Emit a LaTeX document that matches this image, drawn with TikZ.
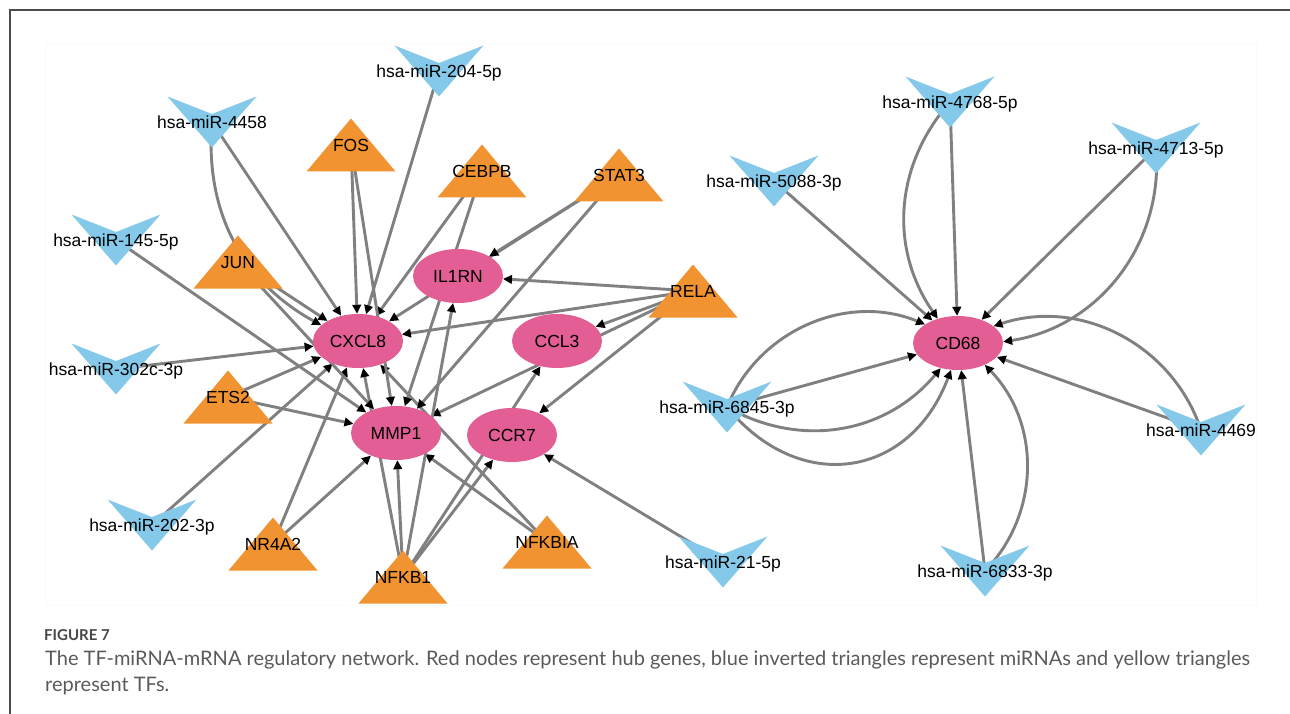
\documentclass[tikz,border=0pt]{standalone}
\usepackage{fontspec}
\setmainfont{Liberation Sans}
\newfontfamily\capfont{Lato}
\usetikzlibrary{shapes.geometric,arrows.meta,backgrounds}
\definecolor{hubpink}{RGB}{227,94,148}
\definecolor{tforange}{RGB}{241,147,48}
\definecolor{mirblue}{RGB}{133,201,234}
\definecolor{edgegray}{RGB}{128,128,128}
\definecolor{framegray}{RGB}{75,75,75}
\definecolor{captext}{RGB}{90,90,90}
\tikzset{
  tfshape/.pic={\fill[tforange] (0,-26.5) -- (44.5,26.5) -- (-44.5,26.5) -- cycle;},
  mirshape/.pic={\fill[mirblue] (-44.5,-25.5) -- (0,-8) -- (44.5,-25.5) -- (0,25.5) -- cycle;}
}
\newcommand{\tfnode}[3]{\pic at (#2) {tfshape}; \node[lbl] (#1) at (#2) {#3};}
\newcommand{\mirnode}[3]{\pic at (#2) {mirshape}; \node[lbl] (#1) at (#2) {#3};}

\begin{document}
\begin{tikzpicture}[x=1pt, y=-1pt,
    lbl/.style={inner sep=0pt, text height=12.6pt, text depth=0pt, font=\fontsize{17.5}{17.5}\selectfont},
    gene/.style={lbl, ellipse, fill=hubpink, minimum width=90pt, minimum height=54pt},
    link/.style={draw=edgegray, line width=2.9pt, -{Triangle[length=9pt, width=8.5pt, color=black]}},
    captxt/.style={inner sep=0pt, anchor=base west, text=captext, font=\capfont\fontsize{20}{20}\selectfont}]
  \useasboundingbox (0,0) rectangle (1290,714);
  \draw[framegray, line width=1.5pt] (10,714) -- (10,10) -- (1290,10);
  \draw[black!2, line width=0.8pt] (45,43) rectangle (1256,605);

  % hub genes
  \node[gene] (cxcl8) at (358,341) {CXCL8};
  \node[gene] (il1rn) at (458,276) {IL1RN};
  \node[gene] (ccl3) at (557,341) {CCL3};
  \node[gene] (mmp1) at (396,433) {MMP1};
  \node[gene] (ccr7) at (512,435) {CCR7};
  \node[gene] (cd68) at (958,343) {CD68};

  % TFs
  \tfnode{fos}{351,145}{FOS}
  \tfnode{cebpb}{482,171}{CEBPB}
  \tfnode{stat3}{619,175}{STAT3}
  \tfnode{jun}{238,262}{JUN}
  \tfnode{rela}{693,291}{RELA}
  \tfnode{ets2}{228,397}{ETS2}
  \tfnode{nr4a2}{273,544}{NR4A2}
  \tfnode{nfkb1}{403,577}{NFKB1}
  \tfnode{nfkbia}{547,542}{NFKBIA}

  % miRNAs
  \mirnode{m204}{439,71}{hsa-miR-204-5p}
  \mirnode{m4458}{212,122}{hsa-miR-4458}
  \mirnode{m145}{116,240}{hsa-miR-145-5p}
  \mirnode{m302c}{116,369}{hsa-miR-302c-3p}
  \mirnode{m202}{152,525}{hsa-miR-202-3p}
  \mirnode{m21}{723,562}{hsa-miR-21-5p}
  \mirnode{m6845}{727,407}{hsa-miR-6845-3p}
  \mirnode{m5088}{774,181}{hsa-miR-5088-3p}
  \mirnode{m4768}{950,102}{hsa-miR-4768-5p}
  \mirnode{m4713}{1156,148}{hsa-miR-4713-5p}
  \mirnode{m4469}{1201,430}{hsa-miR-4469}
  \mirnode{m6833}{985,571}{hsa-miR-6833-3p}

  \begin{pgfonlayer}{background}
    \foreach \src/\dst in {m4458/cxcl8, fos/cxcl8, m204/cxcl8, cebpb/cxcl8, stat3/cxcl8,
        jun/cxcl8, m302c/cxcl8, rela/cxcl8, ets2/cxcl8, m202/cxcl8, nr4a2/cxcl8,
        nfkb1/cxcl8, nfkbia/cxcl8,
        m145/mmp1, jun/mmp1, fos/mmp1, cebpb/mmp1, stat3/mmp1, rela/mmp1,
        ets2/mmp1, nr4a2/mmp1, nfkb1/mmp1, nfkbia/mmp1,
        stat3/il1rn, rela/il1rn, nfkb1/il1rn,
        rela/ccl3, nfkb1/ccl3,
        rela/ccr7, m21/ccr7, nfkb1/ccr7,
        m5088/cd68, m4768/cd68, m4713/cd68, m4469/cd68, m6833/cd68, m6845/cd68}
      \draw[link] (\src.center) -- (\dst);
    % repeated pairs
    \draw[link] (m4458.center) to[bend right=33] (cxcl8);
    \draw[link] (m4768.center) to[bend right=38] (cd68);
    \draw[link] (m4713.center) to[bend left=43] (cd68);
    \draw[link] (m4469.center) to[bend right=45] (cd68);
    \draw[link] (m6833.center) to[bend right=44] (cd68);
    \draw[link] (m6845.center) to[bend left=45] (cd68);
    \draw[link] (m6845.center) to[bend right=40] (cd68);
    \draw[link] (m6845.center) to[bend right=60, looseness=1.3] (cd68);
  \end{pgfonlayer}

  % caption
  \node[captxt, text=black!72, font=\capfont\bfseries\fontsize{15}{15}\selectfont] (fignum) at (44,640) {FIGURE 7};
  \node[captxt] (capa) at (45,665) {The TF-miRNA-mRNA regulatory network. Red nodes represent hub genes, blue inverted triangles represent miRNAs and yellow triangles};
  \node[captxt] (capb) at (45,691) {represent TFs.};
\end{tikzpicture}
\end{document}
